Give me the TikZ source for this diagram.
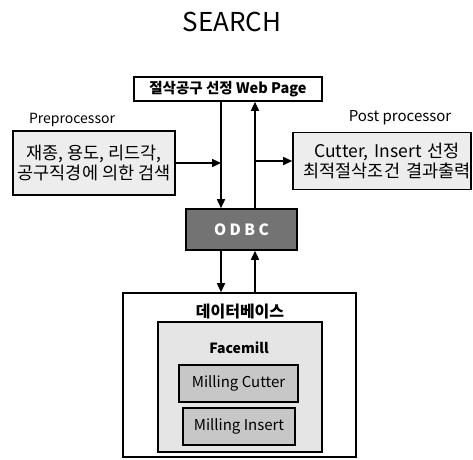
\documentclass[tikz,border=0pt]{standalone}
\usepackage{fontspec}
\setmainfont{Noto Sans CJK KR}
\usetikzlibrary{arrows.meta}

\begin{document}
\begin{tikzpicture}[
    x=1pt, y=-1pt,
    box/.style={rectangle, draw, line width=1.6pt, inner sep=0pt, align=center},
    dotbox/.style={box, fill=black!7, font=\fontsize{17.5}{20}\selectfont},
    odbcbox/.style={box, fill=black!55, text=white, font=\fontsize{15.5}{17}\selectfont\bfseries\addfontfeature{LetterSpace=22}},
    tblbox/.style={box, line width=1.3pt, fill=black!22, font=\fontsize{15}{17}\selectfont},
    arr/.style={-{Triangle[length=9pt,width=8pt]}, line width=1.6pt},
    lbl/.style={font=\fontsize{14}{15}\selectfont, inner sep=0pt}
]
    \useasboundingbox (0,0) rectangle (473,459);

    % Title
    \node[font=\fontsize{26}{28}\selectfont] (title) at (232,22) {SEARCH};

    % Web page
    \node[box, minimum width=188pt, minimum height=24pt, font=\fontsize{14.5}{16}\selectfont\bfseries] (web) at (228,89) {절삭공구 선정 Web Page};

    % Pre / post processor
    \node[lbl] (prelbl) at (72,120) {Preprocessor};
    \node[lbl, font=\fontsize{15}{16}\selectfont] (postlbl) at (400,118) {Post processor};
    \node[dotbox, minimum width=162pt, minimum height=64pt] (pre) at (94,163) {재종, 용도, 리드각,\\공구직경에 의한 검색};
    \node[dotbox, minimum width=178pt, minimum height=57pt, text width=178pt] (post) at (382,161) {\hspace*{10pt}Cutter, Insert 선정\\\hspace*{10pt}최적절삭조건 결과출력};

    % ODBC
    \node[odbcbox, minimum width=111pt, minimum height=41pt] (odbc) at (241.5,229.5) {ODBC};

    % Database
    \node[box, minimum width=233pt, minimum height=164pt] (db) at (239.5,375) {};
    \node[font=\fontsize{16}{18}\selectfont\bfseries, inner sep=0pt] (dblbl) at (240,312) {데이터베이스};
    \node[box, line width=1.3pt, fill=black!10, minimum width=164pt, minimum height=130pt] (face) at (240,387) {};
    \node[font=\fontsize{14}{16}\selectfont\bfseries, inner sep=0pt] (facelbl) at (239,348) {Facemill};
    \node[tblbox, minimum width=119pt, minimum height=37pt] (cutter) at (238.5,383.5) {Milling Cutter};
    \node[tblbox, minimum width=112pt, minimum height=37pt] (insert) at (239,426.5) {Milling Insert};

    % Connectors
    \coordinate (dn) at (221,0);
    \coordinate (up) at (255,0);
    \draw[arr] (web.south -| dn) -- (odbc.north -| dn);
    \draw[arr] (odbc.north -| up) -- (web.south -| up);
    \draw[arr] (pre.east) -- (pre.east -| dn);
    \draw[arr] (post.west -| up) -- (post.west);
    \draw[arr] (odbc.south -| dn) -- (db.north -| dn);
    \draw[arr] (db.north -| up) -- (odbc.south -| up);

\end{tikzpicture}
\end{document}
